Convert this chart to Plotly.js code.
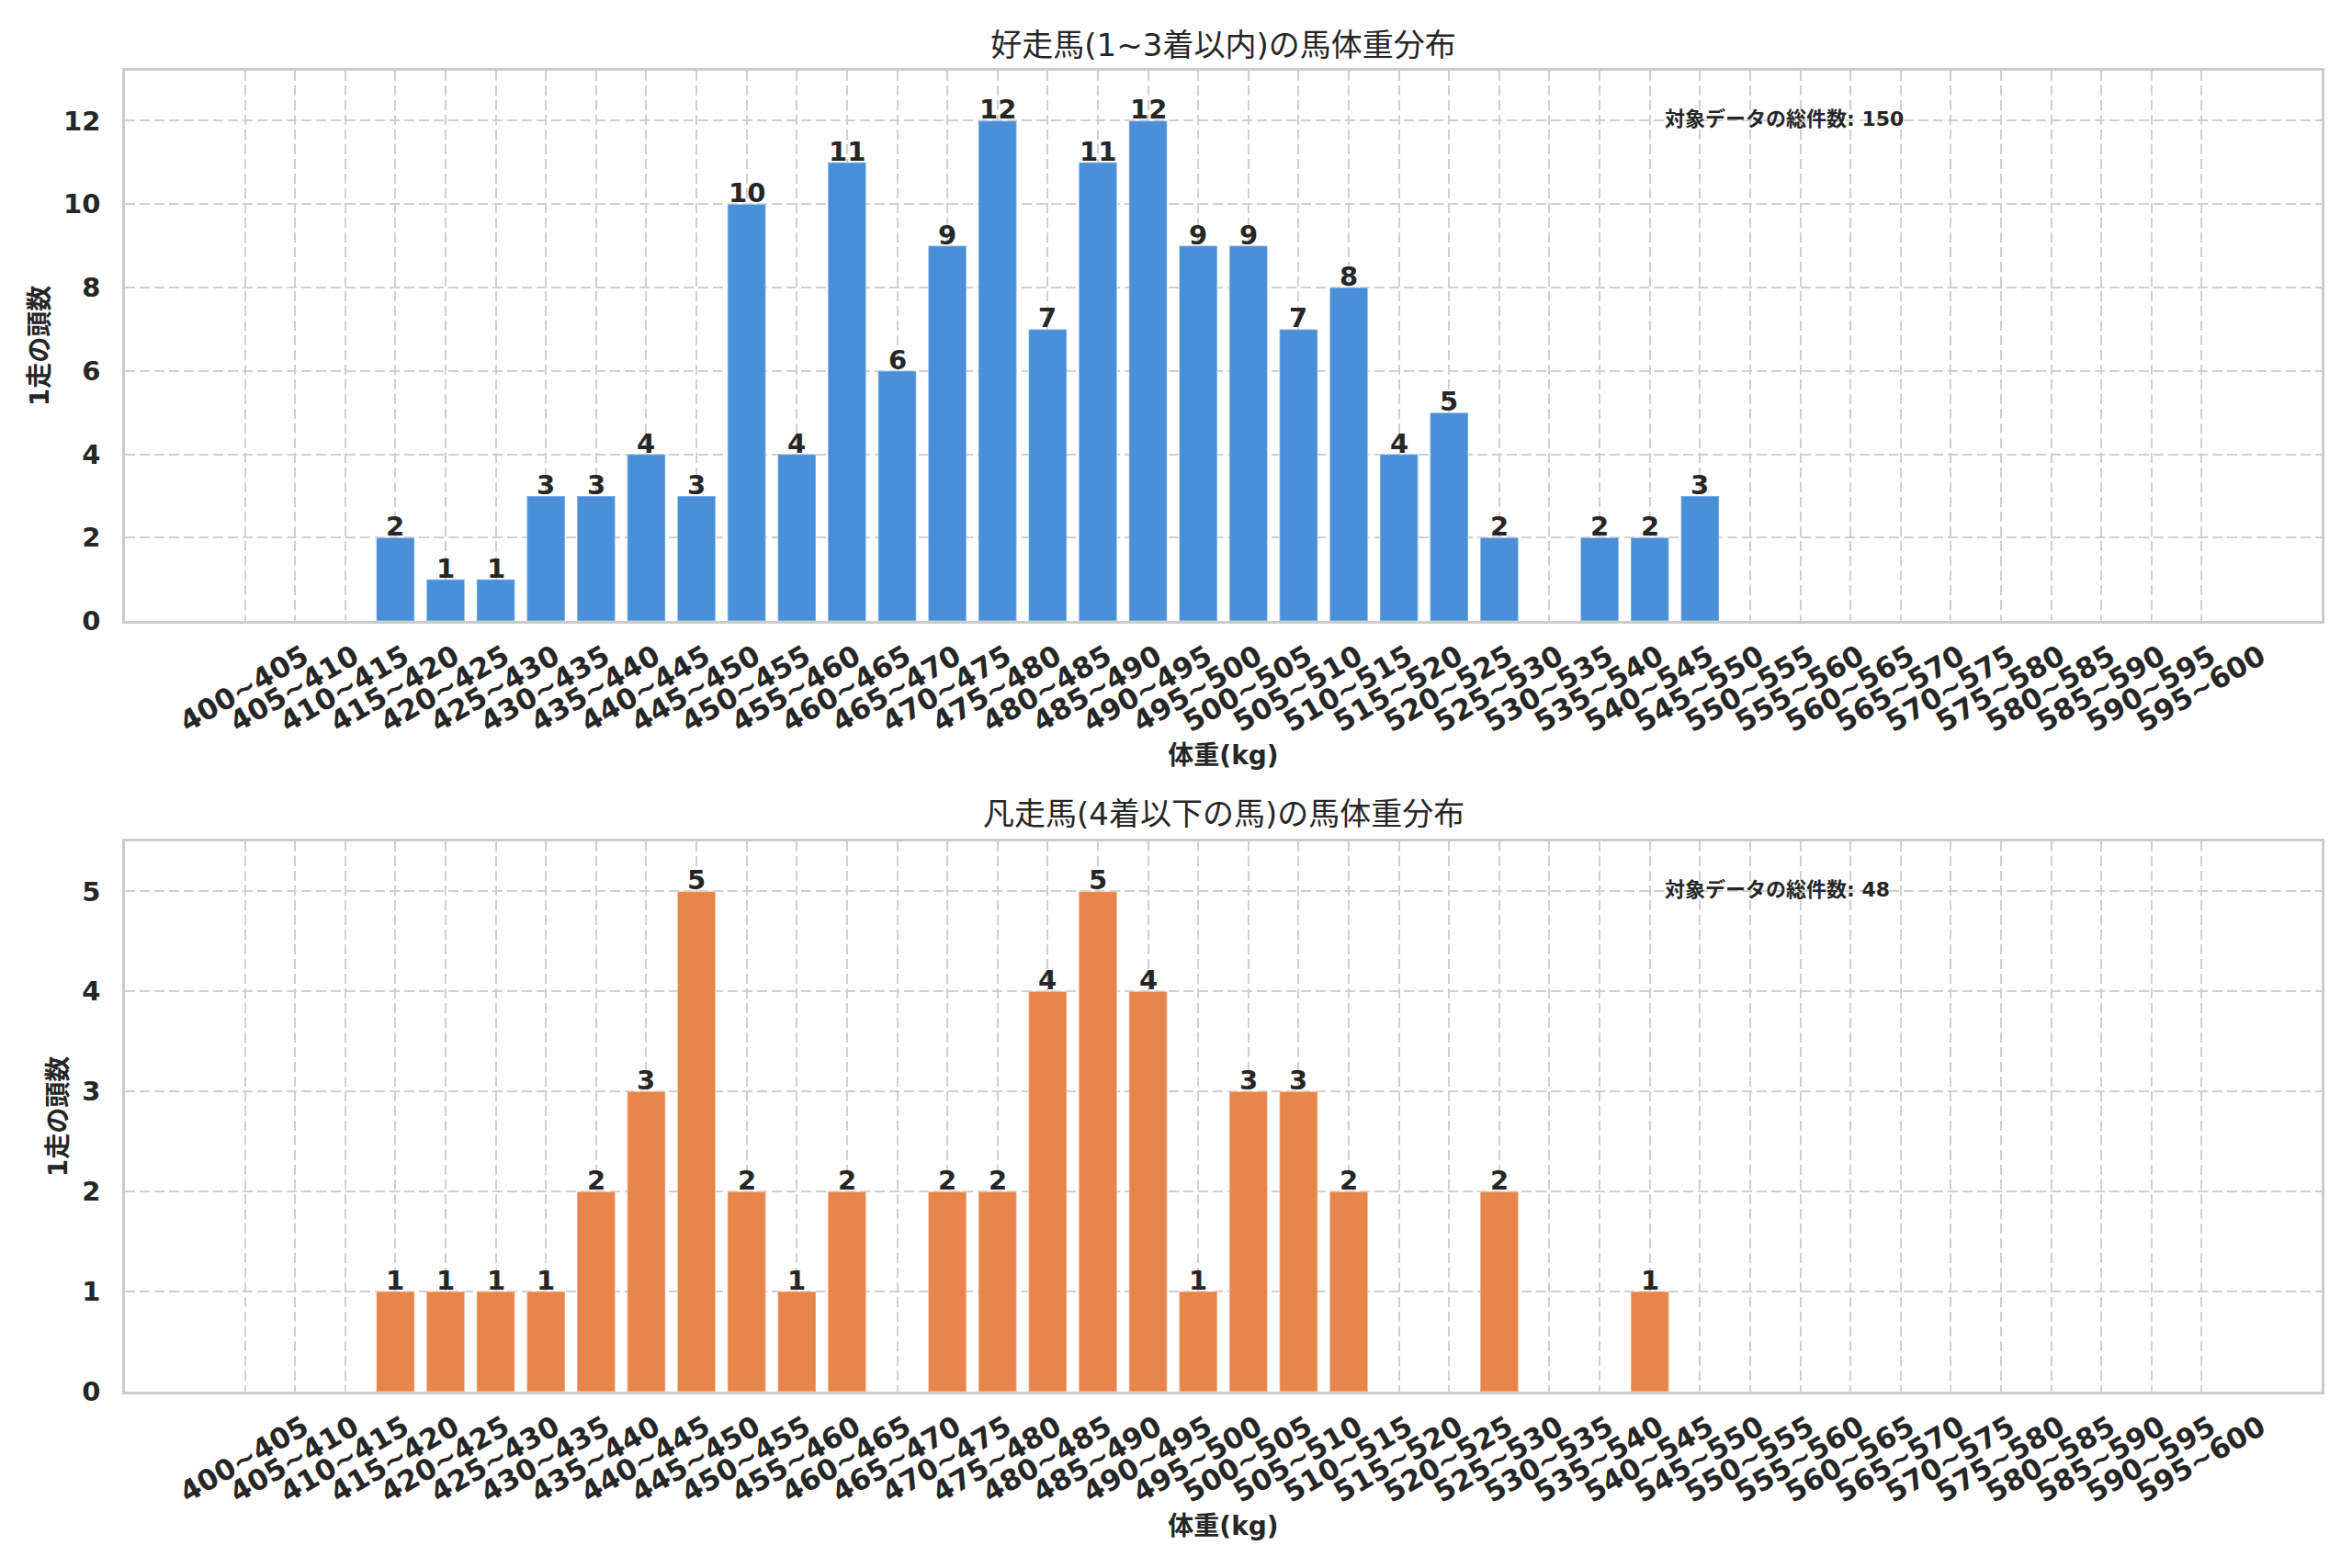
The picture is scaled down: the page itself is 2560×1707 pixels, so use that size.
<!DOCTYPE html>
<html>
<head>
<meta charset="utf-8">
<script src="https://cdn.plot.ly/plotly-3.0.1.min.js"></script>
<style>
  html, body { margin: 0; padding: 0; background: #ffffff; }
  #chart { width: 2560px; height: 1707px; }
</style>
</head>
<body>
<div id="chart"></div>
<script>
// weight bins, 400~405 ... 595~600
const binStarts = [400, 405, 410, 415, 420, 425, 430, 435, 440, 445,
                   450, 455, 460, 465, 470, 475, 480, 485, 490, 495,
                   500, 505, 510, 515, 520, 525, 530, 535, 540, 545,
                   550, 555, 560, 565, 570, 575, 580, 585, 590, 595];
const binLabels = binStarts.map(s => s + '~' + (s + 5));

// counts per bin, horses finishing 1st-3rd
const topCounts = [0, 0, 0, 2, 1, 1, 3, 3, 4, 3,
                   10, 4, 11, 6, 9, 12, 7, 11, 12, 9,
                   9, 7, 8, 4, 5, 2, 0, 2, 2, 3,
                   0, 0, 0, 0, 0, 0, 0, 0, 0, 0];

// counts per bin, horses finishing 4th or lower
const lowCounts = [0, 0, 0, 1, 1, 1, 1, 2, 3, 5,
                   2, 1, 2, 0, 2, 2, 4, 5, 4, 1,
                   3, 3, 2, 0, 0, 2, 0, 0, 1, 0,
                   0, 0, 0, 0, 0, 0, 0, 0, 0, 0];

const titleTop = '好走馬(1~3着以内)の馬体重分布';
const titleLow = '凡走馬(4着以下の馬)の馬体重分布';
const xTitle = '体重(kg)';
const yTitle = '1走の頭数';
const totalLabel = '対象データの総件数';

const FONT = 'DejaVu Sans, Noto Sans CJK JP, sans-serif';
const INK = '#262626';
const GRID = '#d0d0d0';
const DASH = '11px,5px';

function sum(arr) {
    return arr.reduce((a, b) => a + b, 0);
}

function barTrace(counts, color, xa, ya) {
    return {
        type: 'bar',
        x: binLabels,
        y: counts,
        xaxis: xa,
        yaxis: ya,
        width: 0.76,
        marker: { color: color, line: { color: 'rgba(255,255,255,0.35)', width: 1.5 } },
        hoverinfo: 'x+y',
        showlegend: false
    };
}

// count labels sitting right on top of each bar
function barLabels(counts, xa, ya) {
    const out = [];
    counts.forEach((v, i) => {
        if (v <= 0) return;
        out.push({
            text: String(v),
            xref: xa, yref: ya,
            x: binLabels[i], y: v,
            xanchor: 'center', yanchor: 'bottom',
            yshift: -7,
            showarrow: false,
            font: { family: FONT, size: 29, color: INK, weight: 'bold' }
        });
    });
    return out;
}

function xAxis() {
    return {
        type: 'category',
        categoryorder: 'array',
        categoryarray: binLabels,
        range: [-2.39, 41.39],
        tickangle: -30,
        ticklabelshift: 64,
        ticklabelstandoff: 6,
        tickfont: { family: FONT, size: 31, color: INK, weight: 'bold' },
        showgrid: true,
        gridcolor: GRID,
        gridwidth: 2,
        griddash: DASH,
        showline: true,
        linecolor: '#cccccc',
        linewidth: 2.5,
        mirror: true,
        ticks: '',
        zeroline: false,
        title: {
            text: xTitle,
            font: { family: FONT, size: 28, color: INK, weight: 'bold' },
            standoff: 10
        }
    };
}

function yAxis(domain, maxVal, dtick) {
    return {
        domain: domain,
        range: [0, maxVal * 1.1],
        dtick: dtick,
        tickfont: { family: FONT, size: 29, color: INK, weight: 'bold' },
        ticklabelstandoff: 18,
        showgrid: true,
        gridcolor: GRID,
        gridwidth: 2,
        griddash: DASH,
        showline: true,
        linecolor: '#cccccc',
        linewidth: 2.5,
        mirror: true,
        ticks: '',
        zeroline: false,
        title: {
            text: yTitle,
            font: { family: FONT, size: 28, color: INK, weight: 'bold' },
            standoff: 8
        }
    };
}

const data = [
    barTrace(topCounts, '#4a90d9', 'x', 'y'),
    barTrace(lowCounts, '#e8854b', 'x2', 'y2')
];

const layout = {
    width: 2560,
    height: 1707,
    paper_bgcolor: '#ffffff',
    plot_bgcolor: '#ffffff',
    margin: { l: 136, r: 33, t: 77, b: 192 },
    bargap: 0.24,
    title: {
        text: titleTop,
        font: { family: FONT, size: 34, color: INK },
        x: 0.5,
        xref: 'paper',
        xanchor: 'center',
        y: 1 - 49 / 1707,
        yref: 'container',
        yanchor: 'middle'
    },
    xaxis: Object.assign(xAxis(), { anchor: 'y' }),
    yaxis: Object.assign(yAxis([0.5834, 1], Math.max(...topCounts), 2), { anchor: 'x' }),
    xaxis2: Object.assign(xAxis(), { anchor: 'y2' }),
    yaxis2: Object.assign(yAxis([0, 0.4166], Math.max(...lowCounts), 1), { anchor: 'x2' }),
    annotations: [
        {
            text: titleLow,
            font: { family: FONT, size: 34, color: INK },
            xref: 'paper', yref: 'paper',
            x: 0.5, y: 0.4374,
            xanchor: 'center', yanchor: 'middle',
            showarrow: false
        },
        {
            text: totalLabel + ': ' + sum(topCounts),
            font: { family: FONT, size: 22, color: INK, weight: 'bold' },
            xref: 'x domain', yref: 'y domain',
            x: 0.7, y: 0.913,
            xanchor: 'left', yanchor: 'middle',
            showarrow: false
        },
        {
            text: totalLabel + ': ' + sum(lowCounts),
            font: { family: FONT, size: 22, color: INK, weight: 'bold' },
            xref: 'x2 domain', yref: 'y2 domain',
            x: 0.7, y: 0.913,
            xanchor: 'left', yanchor: 'middle',
            showarrow: false
        }
    ].concat(barLabels(topCounts, 'x', 'y'), barLabels(lowCounts, 'x2', 'y2'))
};

Plotly.newPlot('chart', data, layout, { displayModeBar: false, responsive: false });
</script>
</body>
</html>
